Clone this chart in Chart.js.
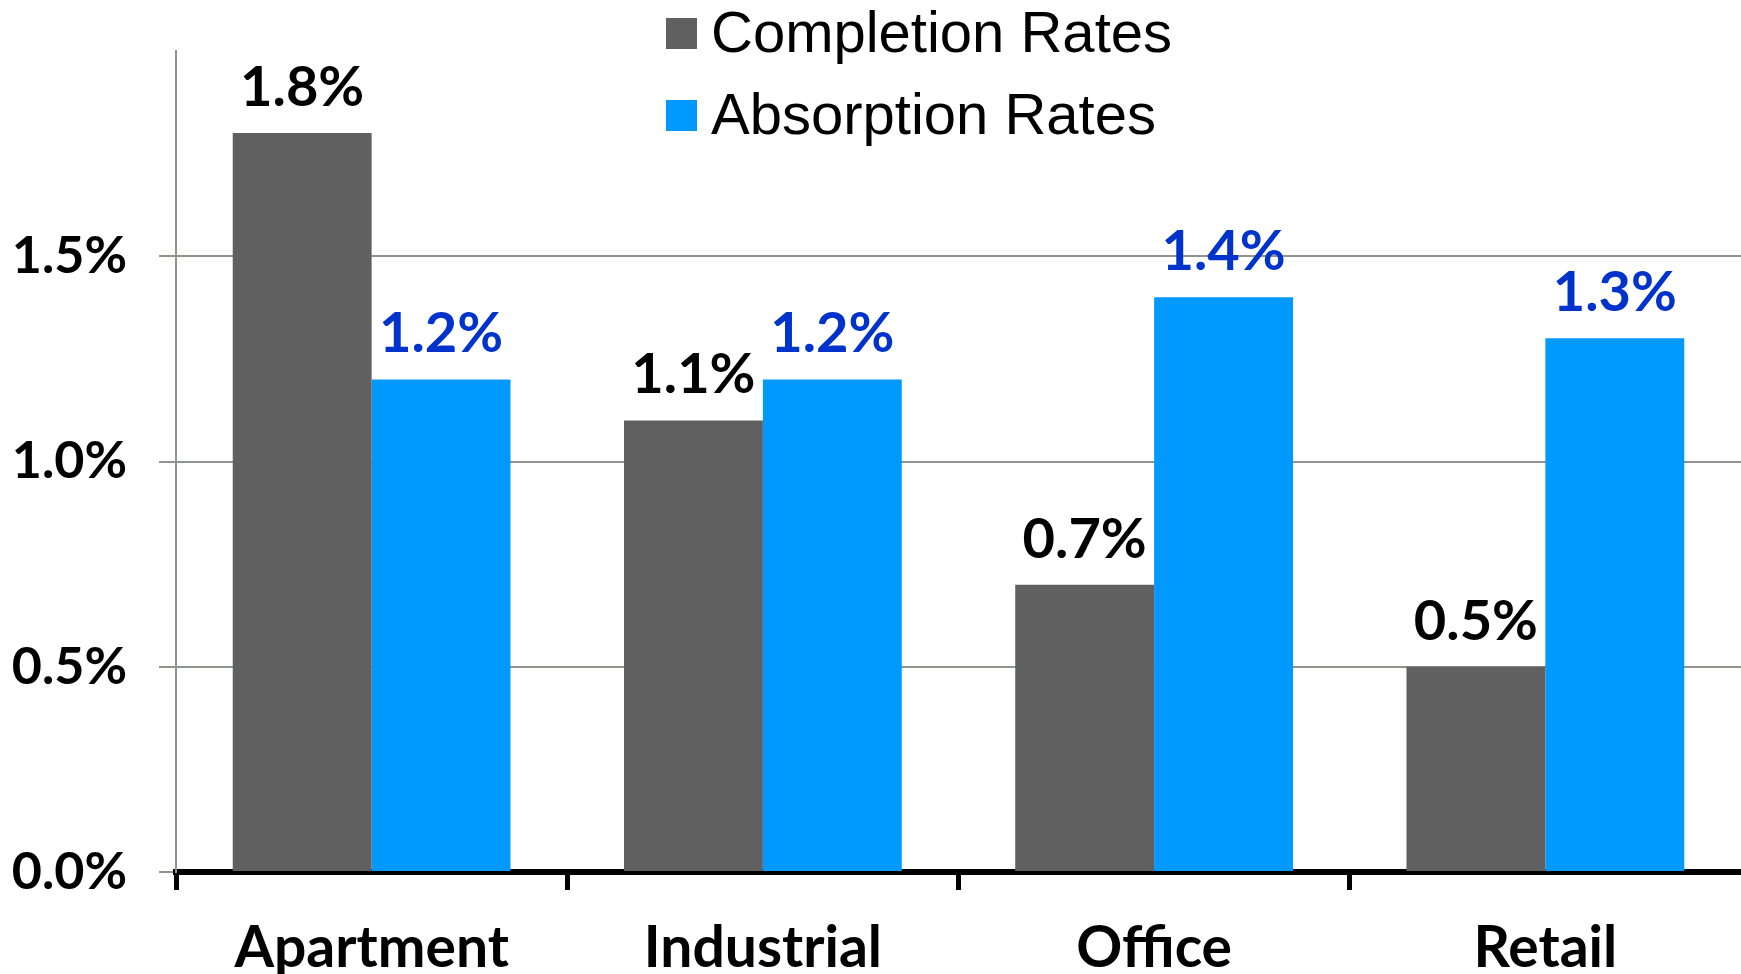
<!DOCTYPE html>
<html>
<head>
<meta charset="utf-8">
<script src="https://cdn.jsdelivr.net/npm/chart.js@4.4.0/dist/chart.umd.min.js"></script>
<style>
  html, body { margin: 0; padding: 0; background: #ffffff; }
  #wrap { width: 1741px; height: 974px; position: relative; }
</style>
</head>
<body>
<div id="wrap"><canvas id="c"></canvas></div>
<script>
// ---- data ----
const categories = ['Apartment', 'Industrial', 'Office', 'Retail'];
const completionRates = [1.8, 1.1, 0.7, 0.5];
const absorptionRates = [1.2, 1.2, 1.4, 1.3];
const seriesNames = ['Completion Rates', 'Absorption Rates'];
const yTickValues = [0, 0.5, 1.0, 1.5];

// ---- styles ----
const GRAY_BAR = '#606060';
const BLUE_BAR = '#0099ff';
const GRID = '#8e948e';
const LABEL_COLORS = ['#000000', '#0033cc'];
const BOLD = 'Lato, "Open Sans", sans-serif';

const valueLabels = {
  id: 'valueLabels',
  afterDatasetsDraw(chart) {
    const ctx = chart.ctx;
    ctx.save();
    ctx.font = '700 56px ' + BOLD;
    ctx.textAlign = 'center';
    ctx.textBaseline = 'alphabetic';
    chart.data.datasets.forEach((ds, i) => {
      const meta = chart.getDatasetMeta(i);
      ctx.fillStyle = LABEL_COLORS[i];
      meta.data.forEach((bar, j) => {
        ctx.fillText(ds.data[j].toFixed(1) + '%', bar.x, bar.y - 27);
      });
    });
    ctx.restore();
  }
};

const stackedLegend = {
  id: 'stackedLegend',
  afterDraw(chart) {
    const ctx = chart.ctx;
    ctx.save();
    ctx.font = '58px "Liberation Sans", Arial, sans-serif';
    ctx.textBaseline = 'middle';
    ctx.textAlign = 'left';
    chart.data.datasets.forEach((ds, i) => {
      const cy = 33 + i * 82;
      ctx.fillStyle = ds.backgroundColor;
      ctx.fillRect(666, cy - 15, 31, 31);
      ctx.fillStyle = '#000000';
      ctx.fillText(ds.label, 711, cy + 3);
    });
    ctx.restore();
  }
};

new Chart(document.getElementById('c'), {
  type: 'bar',
  data: {
    labels: categories,
    datasets: [
      { label: seriesNames[0], data: completionRates, backgroundColor: GRAY_BAR, borderWidth: 0 },
      { label: seriesNames[1], data: absorptionRates, backgroundColor: BLUE_BAR, borderWidth: 0 }
    ]
  },
  options: {
    responsive: true,
    maintainAspectRatio: false,
    devicePixelRatio: 1,
    animation: false,
    categoryPercentage: 0.71,
    barPercentage: 1.0,
    layout: { padding: { top: 51, left: 0, right: 0, bottom: 0 } },
    plugins: {
      legend: { display: false },
      tooltip: { enabled: false }
    },
    scales: {
      x: {
        afterFit(scale) { scale.height = 102; },
        grid: {
          display: true,
          drawOnChartArea: false,
          drawTicks: true,
          tickLength: 18,
          lineWidth: 5,
          color: (c) => (c.type === 'tick' ? '#000000' : 'rgba(0,0,0,0)')
        },
        border: { display: true, color: '#000000', width: 6 },
        ticks: {
          color: '#000000',
          padding: 30,
          font: { family: BOLD, weight: '700', size: 57, lineHeight: 1.0 }
        }
      },
      y: {
        min: 0,
        max: 2.0,
        afterFit(scale) {
          scale.width = 176;
          scale.paddingTop = 0;
          scale.paddingBottom = 0;
        },
        afterBuildTicks(scale) {
          scale.ticks = yTickValues.concat([2.0]).map(v => ({ value: v }));
        },
        grid: {
          display: true,
          drawTicks: true,
          tickLength: 17,
          lineWidth: 2,
          color: (c) => (c.tick && c.tick.value >= 2 ? 'rgba(0,0,0,0)' : GRID)
        },
        border: { display: true, color: GRID, width: 2 },
        ticks: {
          color: '#000000',
          padding: 32,
          font: { family: BOLD, weight: '700', size: 52 },
          callback: (v) => (v >= 2 ? '' : Number(v).toFixed(1) + '%')
        }
      }
    }
  },
  plugins: [valueLabels, stackedLegend]
});
</script>
</body>
</html>
